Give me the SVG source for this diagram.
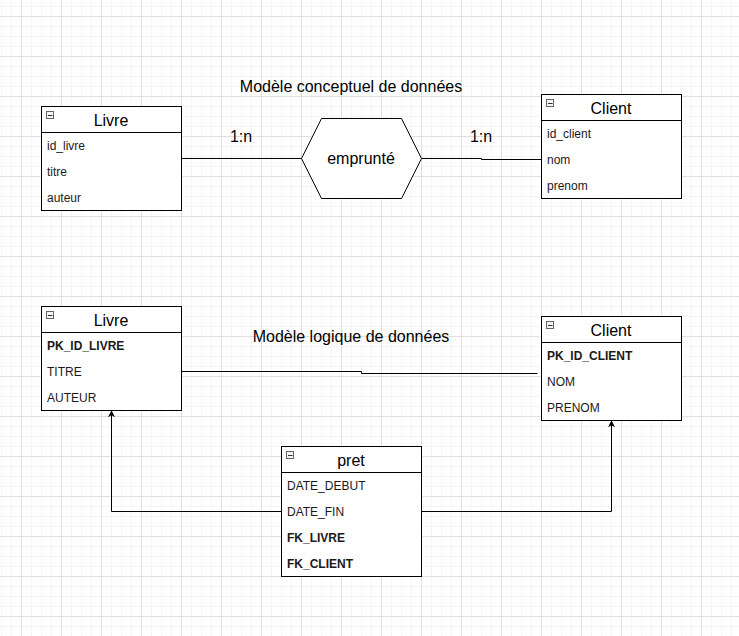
<svg xmlns="http://www.w3.org/2000/svg" width="739" height="636" viewBox="0 0 739 636">
<style>
.box{fill:#fff;stroke:#000;stroke-width:1}
.ln{fill:none;stroke:#000;stroke-width:1}
.ttl{font-family:"Liberation Sans",Arial,sans-serif;font-size:16px;fill:#000;text-anchor:middle}
.row{font-family:"Liberation Sans",Arial,sans-serif;font-size:12px;fill:#1a1a1a}
.b{font-weight:bold}
.lbl{font-family:"Liberation Sans",Arial,sans-serif;font-size:16px;fill:#000;text-anchor:middle}
.ico{fill:#f4f4f4;stroke:#666;stroke-width:1}
</style>
<defs>
<pattern id="minor" width="10" height="10" patternUnits="userSpaceOnUse" x="1" y="6">
<path d="M0.5 0V10M0 0.5H10" stroke="#f5f5f5" stroke-width="1" fill="none"/>
</pattern>
<pattern id="major" width="40" height="40" patternUnits="userSpaceOnUse" x="21" y="16">
<path d="M0.5 0V40M0 0.5H40" stroke="#e0e0e0" stroke-width="1" fill="none"/>
</pattern>
<marker id="arr" viewBox="0 0 10 10" refX="9" refY="5" markerWidth="7" markerHeight="7" markerUnits="userSpaceOnUse" orient="auto">
<path d="M0 0L10 5L0 10L3 5Z" fill="#000"/>
</marker>
<symbol id="minus" overflow="visible">
<rect class="ico" x="0.5" y="0.5" width="7" height="7"/>
<path d="M2 4.5H6.5" stroke="#333" stroke-width="1"/>
</symbol>
</defs>
<rect width="739" height="636" fill="#fff"/>
<rect width="739" height="636" fill="url(#minor)"/>
<rect width="739" height="636" fill="url(#major)"/>

<g id="connectors">
<path class="ln" d="M181.5 158.5H301.5"/>
<path class="ln" d="M421.5 158.5H481.5V159.5H541.5"/>
<path class="ln" d="M181.5 371.5H361.5V373.5H537.5"/>
<path class="ln" d="M281.5 511.5H111.5V411" marker-end="url(#arr)"/>
<path class="ln" d="M421.5 511.5H611.5V421" marker-end="url(#arr)"/>
</g>

<g id="labels">
<text class="lbl" x="351" y="92">Modèle conceptuel de données</text>
<text class="lbl" x="241" y="142">1:n</text>
<text class="lbl" x="481" y="142">1:n</text>
<text class="lbl" x="351" y="342">Modèle logique de données</text>
</g>

<g id="livre1">
<rect class="box" x="41.5" y="106.5" width="140" height="104"/>
<path class="ln" d="M41.5 132.5H181.5"/>
<use href="#minus" x="46" y="111"/>
<text class="ttl" x="111" y="126">Livre</text>
<text class="row" x="47" y="150">id_livre</text>
<text class="row" x="47" y="176">titre</text>
<text class="row" x="47" y="202">auteur</text>
</g>

<g id="emprunte">
<polygon class="box" points="301.5,158.5 321.5,118.5 401.5,118.5 421.5,158.5 401.5,198.5 321.5,198.5"/>
<text class="lbl" x="361" y="164">emprunté</text>
</g>

<g id="client1">
<rect class="box" x="541.5" y="94.5" width="140" height="104"/>
<path class="ln" d="M541.5 120.5H681.5"/>
<use href="#minus" x="546" y="99"/>
<text class="ttl" x="611" y="114">Client</text>
<text class="row" x="547" y="138">id_client</text>
<text class="row" x="547" y="164">nom</text>
<text class="row" x="547" y="190">prenom</text>
</g>

<g id="livre2">
<rect class="box" x="41.5" y="306.5" width="140" height="104"/>
<path class="ln" d="M41.5 332.5H181.5"/>
<use href="#minus" x="46" y="311"/>
<text class="ttl" x="111" y="326">Livre</text>
<text class="row b" x="47" y="350">PK_ID_LIVRE</text>
<text class="row" x="47" y="376">TITRE</text>
<text class="row" x="47" y="402">AUTEUR</text>
</g>

<g id="client2">
<rect class="box" x="541.5" y="316.5" width="140" height="104"/>
<path class="ln" d="M541.5 342.5H681.5"/>
<use href="#minus" x="546" y="321"/>
<text class="ttl" x="611" y="336">Client</text>
<text class="row b" x="547" y="360">PK_ID_CLIENT</text>
<text class="row" x="547" y="386">NOM</text>
<text class="row" x="547" y="412">PRENOM</text>
</g>

<g id="pret">
<rect class="box" x="281.5" y="446.5" width="140" height="130"/>
<path class="ln" d="M281.5 472.5H421.5"/>
<use href="#minus" x="286" y="451"/>
<text class="ttl" x="351" y="466">pret</text>
<text class="row" x="287" y="490">DATE_DEBUT</text>
<text class="row" x="287" y="516">DATE_FIN</text>
<text class="row b" x="287" y="542">FK_LIVRE</text>
<text class="row b" x="287" y="568">FK_CLIENT</text>
</g>
</svg>
